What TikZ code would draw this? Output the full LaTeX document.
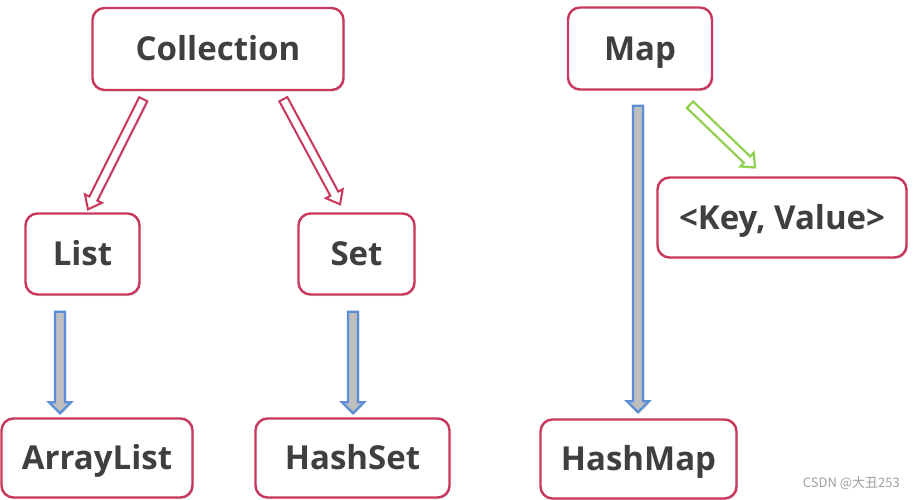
\documentclass[tikz,border=0pt]{standalone}
\usepackage{fontspec}
\setmainfont{Open Sans}
\newfontfamily\cjkfont{Noto Sans CJK SC}
\usetikzlibrary{calc,shadows}
\definecolor{boxred}{HTML}{C8385C}
\definecolor{txtgray}{HTML}{3F3F3F}
\definecolor{arrblue}{HTML}{5B8ED6}
\definecolor{arrgray}{HTML}{BFBFBF}
\definecolor{arrgreen}{HTML}{92D050}
\tikzset{
  box/.style={draw=boxred, line width=2.4pt, rounded corners=12pt, fill=white,
    drop shadow={opacity=0.18, shadow xshift=1.5pt, shadow yshift=-1.5pt},
    font=\fontsize{33}{36}\selectfont\bfseries, text=txtgray, inner sep=0pt,
    text height=23.5pt, text depth=0pt},
}
% block arrow: start, end, draw colour, fill colour, shaft half width, head half width, head length, line width
\newcommand\blkarrow[8]{%
  \coordinate (ba-h) at ($(#2)!#7!(#1)$);
  \draw[line width=#8, draw=#3, fill=#4, line join=miter,
        drop shadow={opacity=0.15, shadow xshift=1.5pt, shadow yshift=-1.5pt}]
    ($(#1)!#5!90:(#2)$) -- ($(ba-h)!#5!-90:(#1)$) -- ($(ba-h)!#6!-90:(#1)$) -- (#2)
    -- ($(ba-h)!#6!90:(#1)$) -- ($(ba-h)!#5!90:(#1)$) -- ($(#1)!#5!-90:(#2)$) -- cycle;
}
\begin{document}
\begin{tikzpicture}[x=1pt,y=-1pt]
\useasboundingbox[fill=white] (0,0) rectangle (915,500);
% nodes
\node[box, minimum width=251pt, minimum height=82pt] (coll) at (218,49) {Collection};
\node[box, minimum width=144pt, minimum height=82pt] (map) at (640,48.5) {Map};
\node[box, minimum width=249pt, minimum height=80pt] (kv) at (782,217.5) {<Key, Value>};
\node[box, minimum width=114pt, minimum height=81pt] (list) at (82.5,254) {List};
\node[box, minimum width=116pt, minimum height=81pt] (set) at (356.5,254) {Set};
\node[box, minimum width=191pt, minimum height=79pt] (alist) at (97,458) {ArrayList};
\node[box, minimum width=194pt, minimum height=79pt] (hset) at (352.5,458) {HashSet};
\node[box, minimum width=196pt, minimum height=79pt] (hmap) at (638.5,459) {HashMap};
% connector end points
\coordinate (cl-a) at ($(coll.south west)+(52,8)$);
\coordinate (cl-b) at ($(list.north)+(5.5,-3)$);
\coordinate (cs-a) at ($(coll.south west)+(192,8)$);
\coordinate (cs-b) at ($(set.north)+(-16.5,-8)$);
\coordinate (la-a) at ($(list.south)+(-22.5,16)$);
\coordinate (la-b) at ($(alist.north)+(-37,-4)$);
\coordinate (sh-a) at ($(set.south)+(-3.5,16)$);
\coordinate (sh-b) at ($(hset.north)+(0.5,-4)$);
\coordinate (mh-a) at ($(map.south)+(-2,15)$);
\coordinate (mh-b) at ($(hmap.north)+(-0.5,-6)$);
\coordinate (mk-a) at ($(map.south)+(50,14)$);
\coordinate (mk-b) at ($(kv.north)+(-27,-9)$);
% connectors
\blkarrow{cl-a}{cl-b}{boxred}{white}{4.5pt}{9.5pt}{12pt}{2pt}
\blkarrow{cs-a}{cs-b}{boxred}{white}{4.5pt}{9.5pt}{12pt}{2pt}
\blkarrow{la-a}{la-b}{arrblue}{arrgray}{5pt}{11pt}{11pt}{2.3pt}
\blkarrow{sh-a}{sh-b}{arrblue}{arrgray}{5pt}{11pt}{11pt}{2.3pt}
\blkarrow{mh-a}{mh-b}{arrblue}{arrgray}{5pt}{11pt}{11pt}{2.3pt}
\blkarrow{mk-a}{mk-b}{arrgreen}{white}{4.5pt}{9.5pt}{11pt}{2.2pt}
% watermark
\node[font=\cjkfont\fontsize{13}{15}\selectfont, text=gray!75, anchor=east, inner sep=0pt] (wm) at (900,483) {CSDN @大丑253};
\end{tikzpicture}
\end{document}
